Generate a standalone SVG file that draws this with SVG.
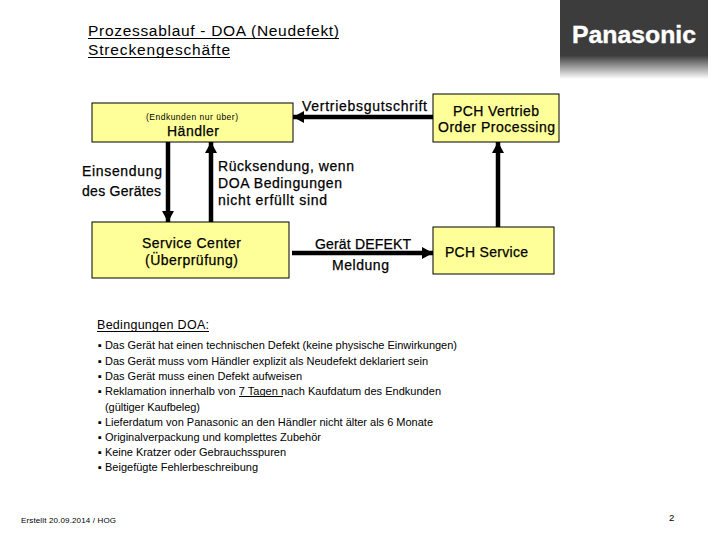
<svg xmlns="http://www.w3.org/2000/svg" width="720" height="540" viewBox="0 0 720 540">
<style>
text{font-family:"Liberation Sans",Arial,sans-serif;fill:#000}
.box{fill:#ffff99;stroke:#000;stroke-width:1}
.lbl{font-size:14px;stroke:#000;stroke-width:.25px}
.title{font-size:15.500px}
.li{font-size:11px}
.conn{stroke:#000;stroke-width:4.5;fill:none}
</style>
<defs>
<linearGradient id="fade" x1="0" y1="0" x2="0" y2="1">
<stop offset="0" stop-color="#3c3c3c"/>
<stop offset=".7" stop-color="#3c3c3c"/>
<stop offset="1" stop-color="#fff"/>
</linearGradient>
<marker id="arr" markerUnits="userSpaceOnUse" markerWidth="12" markerHeight="12" refX="11" refY="6" orient="auto">
<path d="M0 0L11 6L0 12Z" fill="#000"/>
</marker>
</defs>
<rect width="720" height="540" fill="#fff"/>
<text class="title" x="88" y="36" textLength="251">Prozessablauf - DOA (Neudefekt)</text>
<text class="title" x="88" y="55" textLength="142">Streckengeschäfte</text>
<path d="M88 38.500H339M88 57.500H230" stroke="#000" stroke-width="1"/>
<g id="logo">
<rect x="560" y="0" width="148" height="79" fill="url(#fade)"/>
<text x="572" y="43" font-size="24" font-weight="700" style="fill:#fff;stroke:#fff;stroke-width:.4px" textLength="124" lengthAdjust="spacingAndGlyphs">Panasonic</text>
</g>
<g id="connectors">
<path class="conn" d="M168 142V222" marker-end="url(#arr)"/>
<path class="conn" d="M211 222V142" marker-end="url(#arr)"/>
<path class="conn" d="M433 117H293" marker-end="url(#arr)"/>
<path class="conn" d="M292 253H433" marker-end="url(#arr)"/>
<path class="conn" d="M498 227V142" marker-end="url(#arr)"/>
</g>
<g id="haendler">
<rect class="box" x="92" y="103" width="201" height="39"/>
<text x="146" y="120" font-size="8.500" textLength="92">(Endkunden nur über)</text>
<text class="lbl" x="167" y="136" textLength="52">Händler</text>
</g>
<g id="service-center">
<rect class="box" x="92" y="222" width="197" height="56"/>
<text class="lbl" x="142" y="248" textLength="99">Service Center</text>
<text class="lbl" x="145" y="265" textLength="93">(Überprüfung)</text>
</g>
<g id="pch-vertrieb">
<rect class="box" x="433" y="94" width="126" height="48"/>
<text class="lbl" x="453" y="116" textLength="86">PCH Vertrieb</text>
<text class="lbl" x="438" y="132" textLength="117">Order Processing</text>
</g>
<g id="pch-service">
<rect class="box" x="433" y="227" width="121" height="47"/>
<text class="lbl" x="445" y="257" textLength="83">PCH Service</text>
</g>
<g id="labels">
<text class="lbl" x="82" y="176" textLength="80">Einsendung</text>
<text class="lbl" x="82" y="196" textLength="79">des Gerätes</text>
<text class="lbl" x="218" y="171" textLength="136">Rücksendung, wenn</text>
<text class="lbl" x="218" y="188" textLength="124">DOA Bedingungen</text>
<text class="lbl" x="218" y="205" textLength="109">nicht erfüllt sind</text>
<text class="lbl" x="302" y="111" textLength="125">Vertriebsgutschrift</text>
<text class="lbl" x="315" y="249" textLength="96">Gerät DEFEKT</text>
<text class="lbl" x="332" y="270" textLength="57">Meldung</text>
</g>
<g id="conditions">
<text x="97" y="329" font-size="12.500" textLength="112">Bedingungen DOA:</text>
<path d="M97 331.500H209" stroke="#000" stroke-width="1"/>
<text class="li" x="98" y="349" textLength="359">▪ Das Gerät hat einen technischen Defekt (keine physische Einwirkungen)</text>
<text class="li" x="98" y="364.500" textLength="330">▪ Das Gerät muss vom Händler explizit als Neudefekt deklariert sein</text>
<text class="li" x="98" y="380" textLength="204">▪ Das Gerät muss einen Defekt aufweisen</text>
<text class="li" x="98" y="395" textLength="343">▪ Reklamation innerhalb von 7 Tagen nach Kaufdatum des Endkunden</text>
<path d="M239 396.500H283" stroke="#000" stroke-width="1"/>
<text class="li" x="105" y="410.500" textLength="95">(gültiger Kaufbeleg)</text>
<text class="li" x="98" y="425.500" textLength="335">▪ Lieferdatum von Panasonic an den Händler nicht älter als 6 Monate</text>
<text class="li" x="98" y="440.500" textLength="223">▪ Originalverpackung und komplettes Zubehör</text>
<text class="li" x="98" y="456" textLength="188">▪ Keine Kratzer oder Gebrauchsspuren</text>
<text class="li" x="98" y="471" textLength="160">▪ Beigefügte Fehlerbeschreibung</text>
</g>
<text x="21" y="523" font-size="8" textLength="95">Erstellt 20.09.2014 / HOG</text>
<text x="669" y="521" font-size="9.500">2</text>
</svg>
